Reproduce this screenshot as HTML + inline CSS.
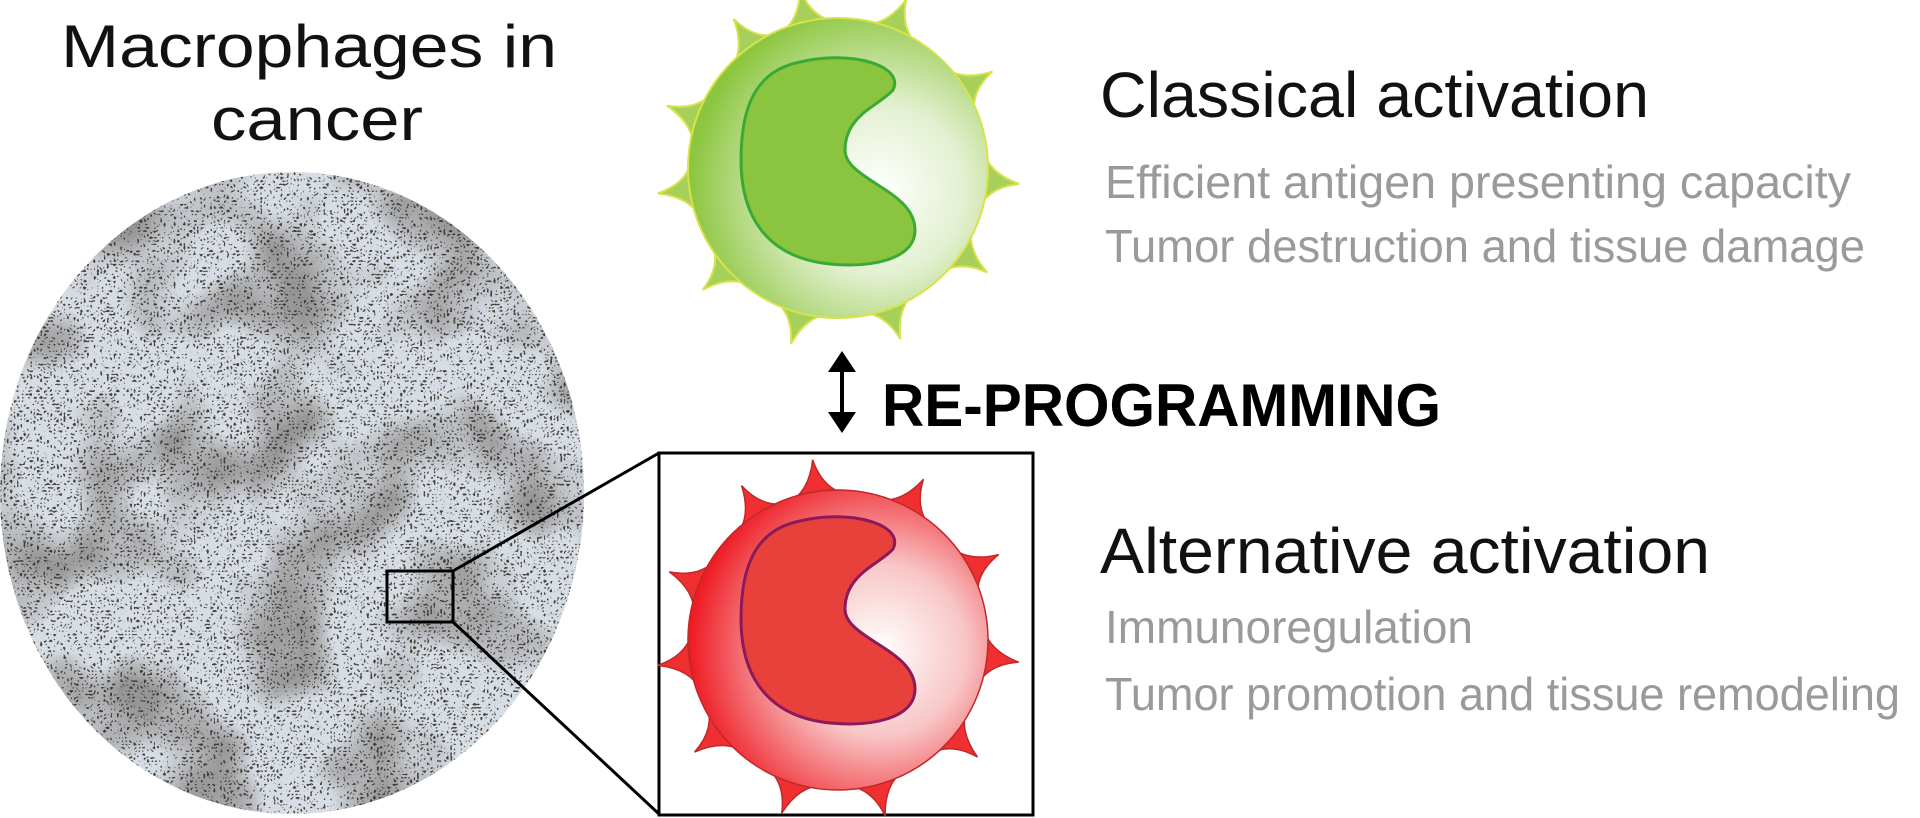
<!DOCTYPE html>
<html><head><meta charset="utf-8"><style>
html,body{margin:0;padding:0;background:#fff;width:1920px;height:818px;overflow:hidden}
svg{display:block}
</style></head><body>
<svg width="1920" height="818" viewBox="0 0 1920 818" xmlns="http://www.w3.org/2000/svg">
<defs>
<radialGradient id="gg" cx="880" cy="190" r="190" gradientUnits="userSpaceOnUse">
<stop offset="0" stop-color="#ffffff"/><stop offset="0.45" stop-color="#e3f0d0"/><stop offset="1" stop-color="#8cc63f"/></radialGradient>
<radialGradient id="rg" cx="880" cy="650" r="190" gradientUnits="userSpaceOnUse">
<stop offset="0" stop-color="#ffffff"/><stop offset="0.45" stop-color="#f8c6c6"/><stop offset="1" stop-color="#ee1c24"/></radialGradient>
<filter id="speck" x="0" y="0" width="1" height="1" color-interpolation-filters="sRGB">
<feTurbulence type="turbulence" baseFrequency="0.3" numOctaves="1" seed="5"/>
<feColorMatrix type="matrix" values="0 0 0 0 0.2  0 0 0 0 0.16  0 0 0 0 0.12  9 0 0 0 -2.6"/>
<feComposite in2="SourceGraphic" operator="in"/>
</filter>
<filter id="cluster" x="0" y="0" width="1" height="1" color-interpolation-filters="sRGB">
<feTurbulence type="fractalNoise" baseFrequency="0.012" numOctaves="2" seed="9"/>
<feColorMatrix type="matrix" values="0 0 0 0 0.3  0 0 0 0 0.26  0 0 0 0 0.22  3 0 0 0 -1.3"/>
<feComposite in2="SourceGraphic" operator="in"/>
</filter>
<path id="gs" d="M-32,-142 Q-8,-150 0,-182 Q6,-150 32,-142 Z"/>
<clipPath id="ec"><ellipse cx="292" cy="493" rx="292" ry="321"/></clipPath>
</defs>

<text x="61" y="67" textLength="496" lengthAdjust="spacingAndGlyphs" font-family="Liberation Sans, sans-serif" font-size="60" fill="#111">Macrophages in</text>
<text x="211" y="140" textLength="212" lengthAdjust="spacingAndGlyphs" font-family="Liberation Sans, sans-serif" font-size="60" fill="#111">cancer</text>

<ellipse cx="292" cy="493" rx="292" ry="321" fill="#d6dde5"/>
<g clip-path="url(#ec)">
<rect x="0" y="172" width="585" height="642" fill="#000" filter="url(#cluster)" opacity="0.45"/>
<rect x="0" y="172" width="585" height="642" fill="#000" filter="url(#speck)" opacity="0.85"/>
</g>
<rect x="387" y="571" width="66" height="51" fill="none" stroke="#000" stroke-width="3"/>
<line x1="453" y1="571" x2="659" y2="453" stroke="#000" stroke-width="3"/>
<line x1="453" y1="622" x2="659" y2="814" stroke="#000" stroke-width="3"/>
<rect x="659" y="453" width="374" height="362" fill="none" stroke="#000" stroke-width="3"/>

<g fill="#a6d05a" stroke="#d7e34a" stroke-width="2">
<use href="#gs" transform="translate(838,168) rotate(-12)"/>
<use href="#gs" transform="translate(838,168) rotate(22)"/>
<use href="#gs" transform="translate(838,168) rotate(58)"/>
<use href="#gs" transform="translate(838,168) rotate(95)"/>
<use href="#gs" transform="translate(838,168) rotate(125)"/>
<use href="#gs" transform="translate(838,168) rotate(160)"/>
<use href="#gs" transform="translate(838,168) rotate(195)"/>
<use href="#gs" transform="translate(838,168) rotate(228)"/>
<use href="#gs" transform="translate(838,168) rotate(262)"/>
<use href="#gs" transform="translate(838,168) rotate(290)"/>
<use href="#gs" transform="translate(838,168) rotate(325)"/>
</g>
<circle cx="838" cy="168" r="150" fill="url(#gg)" stroke="#d7e34a" stroke-width="2"/>
<path d="M800,62 C850,50 905,65 893,90 C880,105 845,115 845,150 C845,180 915,190 915,230 C915,260 870,268 830,264 C770,258 741,220 741,160 C741,100 760,70 800,62 Z" fill="#8bc43f" stroke="#3aaa35" stroke-width="3"/>

<line x1="842" y1="365" x2="842" y2="420" stroke="#000" stroke-width="4"/>
<polygon points="842,351 828,372 856,372" fill="#000"/>
<polygon points="842,433 828,412 856,412" fill="#000"/>
<text x="882" y="426" textLength="559" lengthAdjust="spacingAndGlyphs" font-family="Liberation Sans, sans-serif" font-weight="bold" font-size="60" fill="#000">RE-PROGRAMMING</text>

<g fill="#f03030" stroke="#c0282a" stroke-width="1.5">
<use href="#gs" transform="translate(838,640) rotate(-8)"/>
<use href="#gs" transform="translate(838,640) rotate(28)"/>
<use href="#gs" transform="translate(838,640) rotate(62)"/>
<use href="#gs" transform="translate(838,640) rotate(97)"/>
<use href="#gs" transform="translate(838,640) rotate(130)"/>
<use href="#gs" transform="translate(838,640) rotate(165)"/>
<use href="#gs" transform="translate(838,640) rotate(198)"/>
<use href="#gs" transform="translate(838,640) rotate(232)"/>
<use href="#gs" transform="translate(838,640) rotate(262)"/>
<use href="#gs" transform="translate(838,640) rotate(292)"/>
<use href="#gs" transform="translate(838,640) rotate(328)"/>
</g>
<circle cx="838" cy="640" r="150" fill="url(#rg)" stroke="#c0282a" stroke-width="1.5"/>
<path d="M800,521 C850,509 905,524 893,549 C880,564 845,574 845,609 C845,639 915,649 915,689 C915,719 870,727 830,723 C770,717 741,679 741,619 C741,559 760,529 800,521 Z" fill="#e8403a" stroke="#8b1a5a" stroke-width="3"/>

<g font-family="Liberation Sans, sans-serif">
<text x="1100" y="117" textLength="549" lengthAdjust="spacingAndGlyphs" font-size="64" fill="#111">Classical activation</text>
<text x="1105" y="198" textLength="746" lengthAdjust="spacingAndGlyphs" font-size="46" fill="#9a9a9a">Efficient antigen presenting capacity</text>
<text x="1105" y="262" textLength="760" lengthAdjust="spacingAndGlyphs" font-size="46" fill="#9a9a9a">Tumor destruction and tissue damage</text>
<text x="1100" y="573" textLength="610" lengthAdjust="spacingAndGlyphs" font-size="64" fill="#111">Alternative activation</text>
<text x="1105" y="643" textLength="368" lengthAdjust="spacingAndGlyphs" font-size="46" fill="#9a9a9a">Immunoregulation</text>
<text x="1105" y="710" textLength="795" lengthAdjust="spacingAndGlyphs" font-size="46" fill="#9a9a9a">Tumor promotion and tissue remodeling</text>
</g>
</svg>
</body></html>
